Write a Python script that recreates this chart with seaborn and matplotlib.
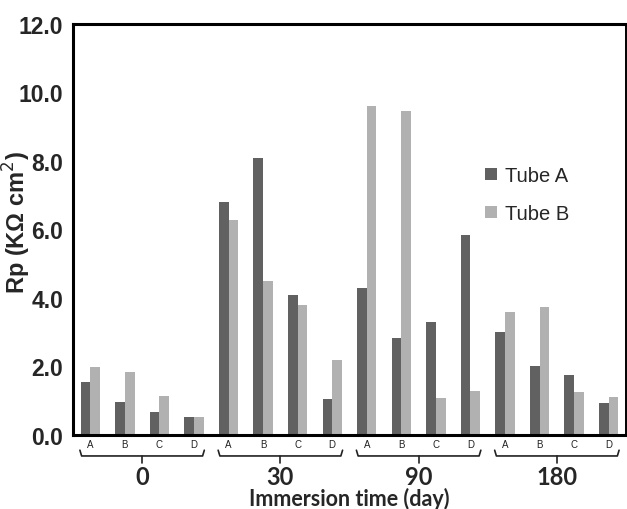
import matplotlib
matplotlib.use("Agg")
import matplotlib.pyplot as plt
import seaborn as sns
import pandas as pd

# Immersion times and sample positions within each time group
days = ["0", "30", "90", "180"]
samples = ["A", "B", "C", "D"]

# Polarization resistance Rp (kΩ cm²), ordered day by day, samples A-D
tube_a = [1.56, 0.95, 0.68, 0.53,
          6.81, 8.09, 4.10, 1.05,
          4.28, 2.82, 3.29, 5.85,
          3.00, 2.01, 1.75, 0.93]
tube_b = [1.99, 1.83, 1.14, 0.53,
          6.28, 4.49, 3.80, 2.19,
          9.60, 9.47, 1.09, 1.27,
          3.60, 3.75, 1.25, 1.11]
series = ["Tube A", "Tube B"]
colors = ["#616161", "#b1b1b1"]
yticks = [0, 2, 4, 6, 8, 10, 12]

keys = [f"{d}-{s}" for d in days for s in samples]
df = pd.DataFrame({
    "pos": keys * 2,
    "Rp": tube_a + tube_b,
    "tube": [series[0]] * len(keys) + [series[1]] * len(keys),
})

sns.set_style("white")
plt.rcParams["font.family"] = ["Liberation Sans", "DejaVu Sans"]

fig = plt.figure(figsize=(6.27, 5.10), dpi=100)
ax = fig.add_axes([0.1164, 0.1451, 0.882, 0.806])

sns.barplot(data=df, x="pos", y="Rp", hue="tube", order=keys,
            hue_order=series, palette=colors, width=0.56,
            saturation=1, linewidth=0, ax=ax, legend=True)

ax.set_xlim(-0.5, len(keys) - 0.5)
ax.set_ylim(0, 12)
ax.set_yticks(yticks)
ax.set_yticklabels([f"{v:.1f}" for v in yticks], fontsize=16.5, fontweight="bold")
ax.tick_params(axis="y", direction="out", length=5, width=0.8, color="#888888", pad=2)

ax.set_xticks(range(len(keys)))
ax.set_xticklabels(samples * len(days), fontsize=7, color="#222222")
ax.tick_params(axis="x", length=0, pad=3)

for side in ["left", "top", "bottom"]:
    ax.spines[side].set_linewidth(2.2)
    ax.spines[side].set_color("black")
    ax.spines[side].set_visible(True)
ax.spines["right"].set_linewidth(1.4)
ax.spines["right"].set_color("black")
ax.spines["right"].set_visible(True)

ax.set_xlabel("")
ax.set_ylabel("Rp (KΩ cm$^2$)", fontsize=17, fontweight="bold")
ax.yaxis.set_label_coords(-0.073, 0.518)

# Braces grouping the samples of each immersion time
trans = ax.get_xaxis_transform()
y_line, y_end, y_mid = -0.051, -0.037, -0.068
for g, d in enumerate(days):
    x0 = g * 4 - 0.3
    x1 = g * 4 + 3 + 0.3
    xc = (x0 + x1) / 2
    ax.plot([x0, x0 + 0.05, x1 - 0.05, x1], [y_end, y_line, y_line, y_end],
            transform=trans, clip_on=False, color="#222222", lw=1.2,
            solid_joinstyle="round")
    ax.plot([xc, xc], [y_line, y_mid], transform=trans, clip_on=False,
            color="#222222", lw=1.2)
    ax.text(xc, -0.101, d, transform=trans, ha="center", va="center",
            fontsize=17, fontweight="bold", family=["Lato", "DejaVu Sans"])

ax.text(0.5, -0.154, "Immersion time (day)", transform=ax.transAxes,
        ha="center", va="center", fontsize=15.5, fontweight="bold",
        family=["Lato", "DejaVu Sans"])

leg = ax.legend(loc="upper left", bbox_to_anchor=(0.73, 0.674), frameon=False,
                fontsize=14.5, handlelength=0.6, handleheight=0.6,
                handletextpad=0.4, labelspacing=0.95, borderaxespad=0)

fig.savefig("out.png", dpi=100)
